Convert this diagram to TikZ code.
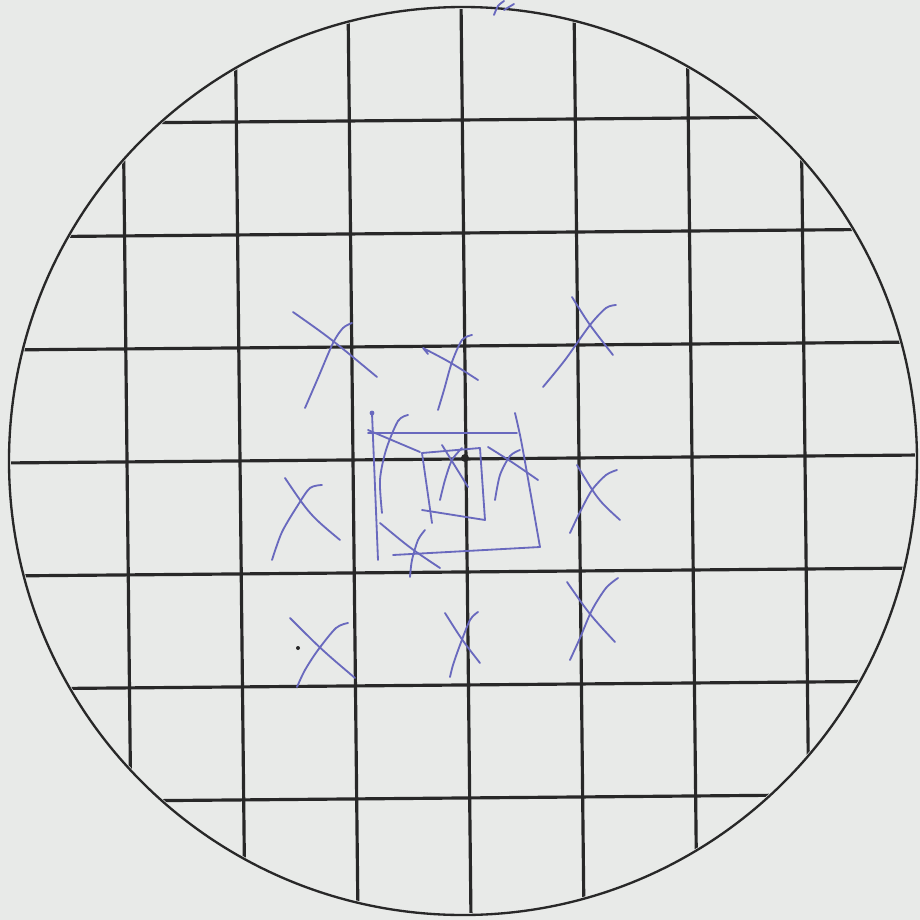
\documentclass[tikz,border=0pt]{standalone}
\usepackage{xcolor}
\definecolor{paper}{RGB}{232,234,232}
\definecolor{ink}{RGB}{40,40,40}
\definecolor{pen}{RGB}{105,105,190}
\begin{document}
\begin{tikzpicture}[x=0.3mm,y=-0.3mm,
  gridline/.style={draw=ink,line width=0.95mm},
  rim/.style={draw=ink,line width=0.7mm},
  penline/.style={draw=pen,line width=0.55mm,line cap=round,line join=round},
  dotmark/.style={fill=ink}]
\useasboundingbox (0,0) rectangle (920,920);
\fill[paper] (0,0) rectangle (920,920);
% grid clipped to the circle
\begin{scope}
  \clip (463,461) circle[radius=452];
  \foreach \k in {-3,...,3}{
    \draw[gridline] ({466+113*\k-5},0) -- ({466+113*\k+5},920);
    \draw[gridline] (0,{459+113*\k+4}) -- (920,{459+113*\k-4});
  }
\end{scope}
\draw[rim] (463,461) circle[radius=454];
\fill[dotmark] (465,458) circle[radius=4];
\fill[dotmark] (298,648) circle[radius=2];
% top row of crosses
\draw[penline] (293,312) .. controls (330,338) .. (377,377);
\draw[penline] plot[smooth] coordinates {(352,323) (343,328) (333,343) (318,378) (305,408)};
\draw[penline] (428,354) -- (423,348) .. controls (450,362) .. (478,380);
\draw[penline] plot[smooth] coordinates {(472,335) (462,340) (452,362) (444,390) (438,410)};
\draw[penline] plot[smooth] coordinates {(572,297) (590,325) (613,355)};
\draw[penline] plot[smooth] coordinates {(616,305) (606,308) (590,325) (565,360) (543,387)};
% middle row of crosses
\draw[penline] (285,478) .. controls (310,515) .. (340,540);
\draw[penline] plot[smooth] coordinates {(322,485) (310,488) (298,505) (282,532) (272,560)};
\draw[penline] (577,465) .. controls (598,500) .. (620,520);
\draw[penline] plot[smooth] coordinates {(617,470) (606,475) (592,490) (580,512) (570,533)};
% bottom row of crosses
\draw[penline] (290,618) .. controls (322,650) .. (355,678);
\draw[penline] plot[smooth] coordinates {(348,623) (336,628) (318,650) (305,670) (297,687)};
\draw[penline] (445,613) .. controls (462,640) .. (480,663);
\draw[penline] plot[smooth] coordinates {(478,612) (470,620) (460,645) (453,665) (450,677)};
\draw[penline] (567,582) .. controls (590,615) .. (615,642);
\draw[penline] plot[smooth] coordinates {(618,578) (606,588) (592,610) (580,638) (570,660)};
% central boxes
\fill[pen] (372,413) circle[radius=2.4];
\draw[penline] (372,413) -- (378,560);
\draw[penline] (368,433) -- (517,433);
\draw[penline] plot[smooth] coordinates {(515,413) (521,440) (530,490) (537,530) (540,547)};
\draw[penline] (393,555) -- (540,547);
\draw[penline] (422,453) -- (432,523);
\draw[penline] (422,453) -- (480,448) -- (485,520);
\draw[penline] (422,510) -- (485,520);
% crosses around the centre
\draw[penline] (442,445) -- (468,487);
\draw[penline] plot[smooth] coordinates {(462,448) (452,460) (445,480) (440,500)};
\draw[penline] (488,447) .. controls (512,462) .. (538,480);
\draw[penline] plot[smooth] coordinates {(520,450) (510,456) (500,475) (495,500)};
\draw[penline] (368,430) -- (420,452);
\draw[penline] plot[smooth] coordinates {(408,415) (398,421) (386,450) (380,480) (382,513)};
\draw[penline] (380,523) .. controls (410,548) .. (440,568);
\draw[penline] plot[smooth] coordinates {(425,530) (418,540) (412,560) (410,577)};
% small mark at the top edge
\draw[penline] plot[smooth] coordinates {(494,15) (498,6) (504,1)};
\draw[penline] (504,10) -- (514,4);
\end{tikzpicture}
\end{document}
